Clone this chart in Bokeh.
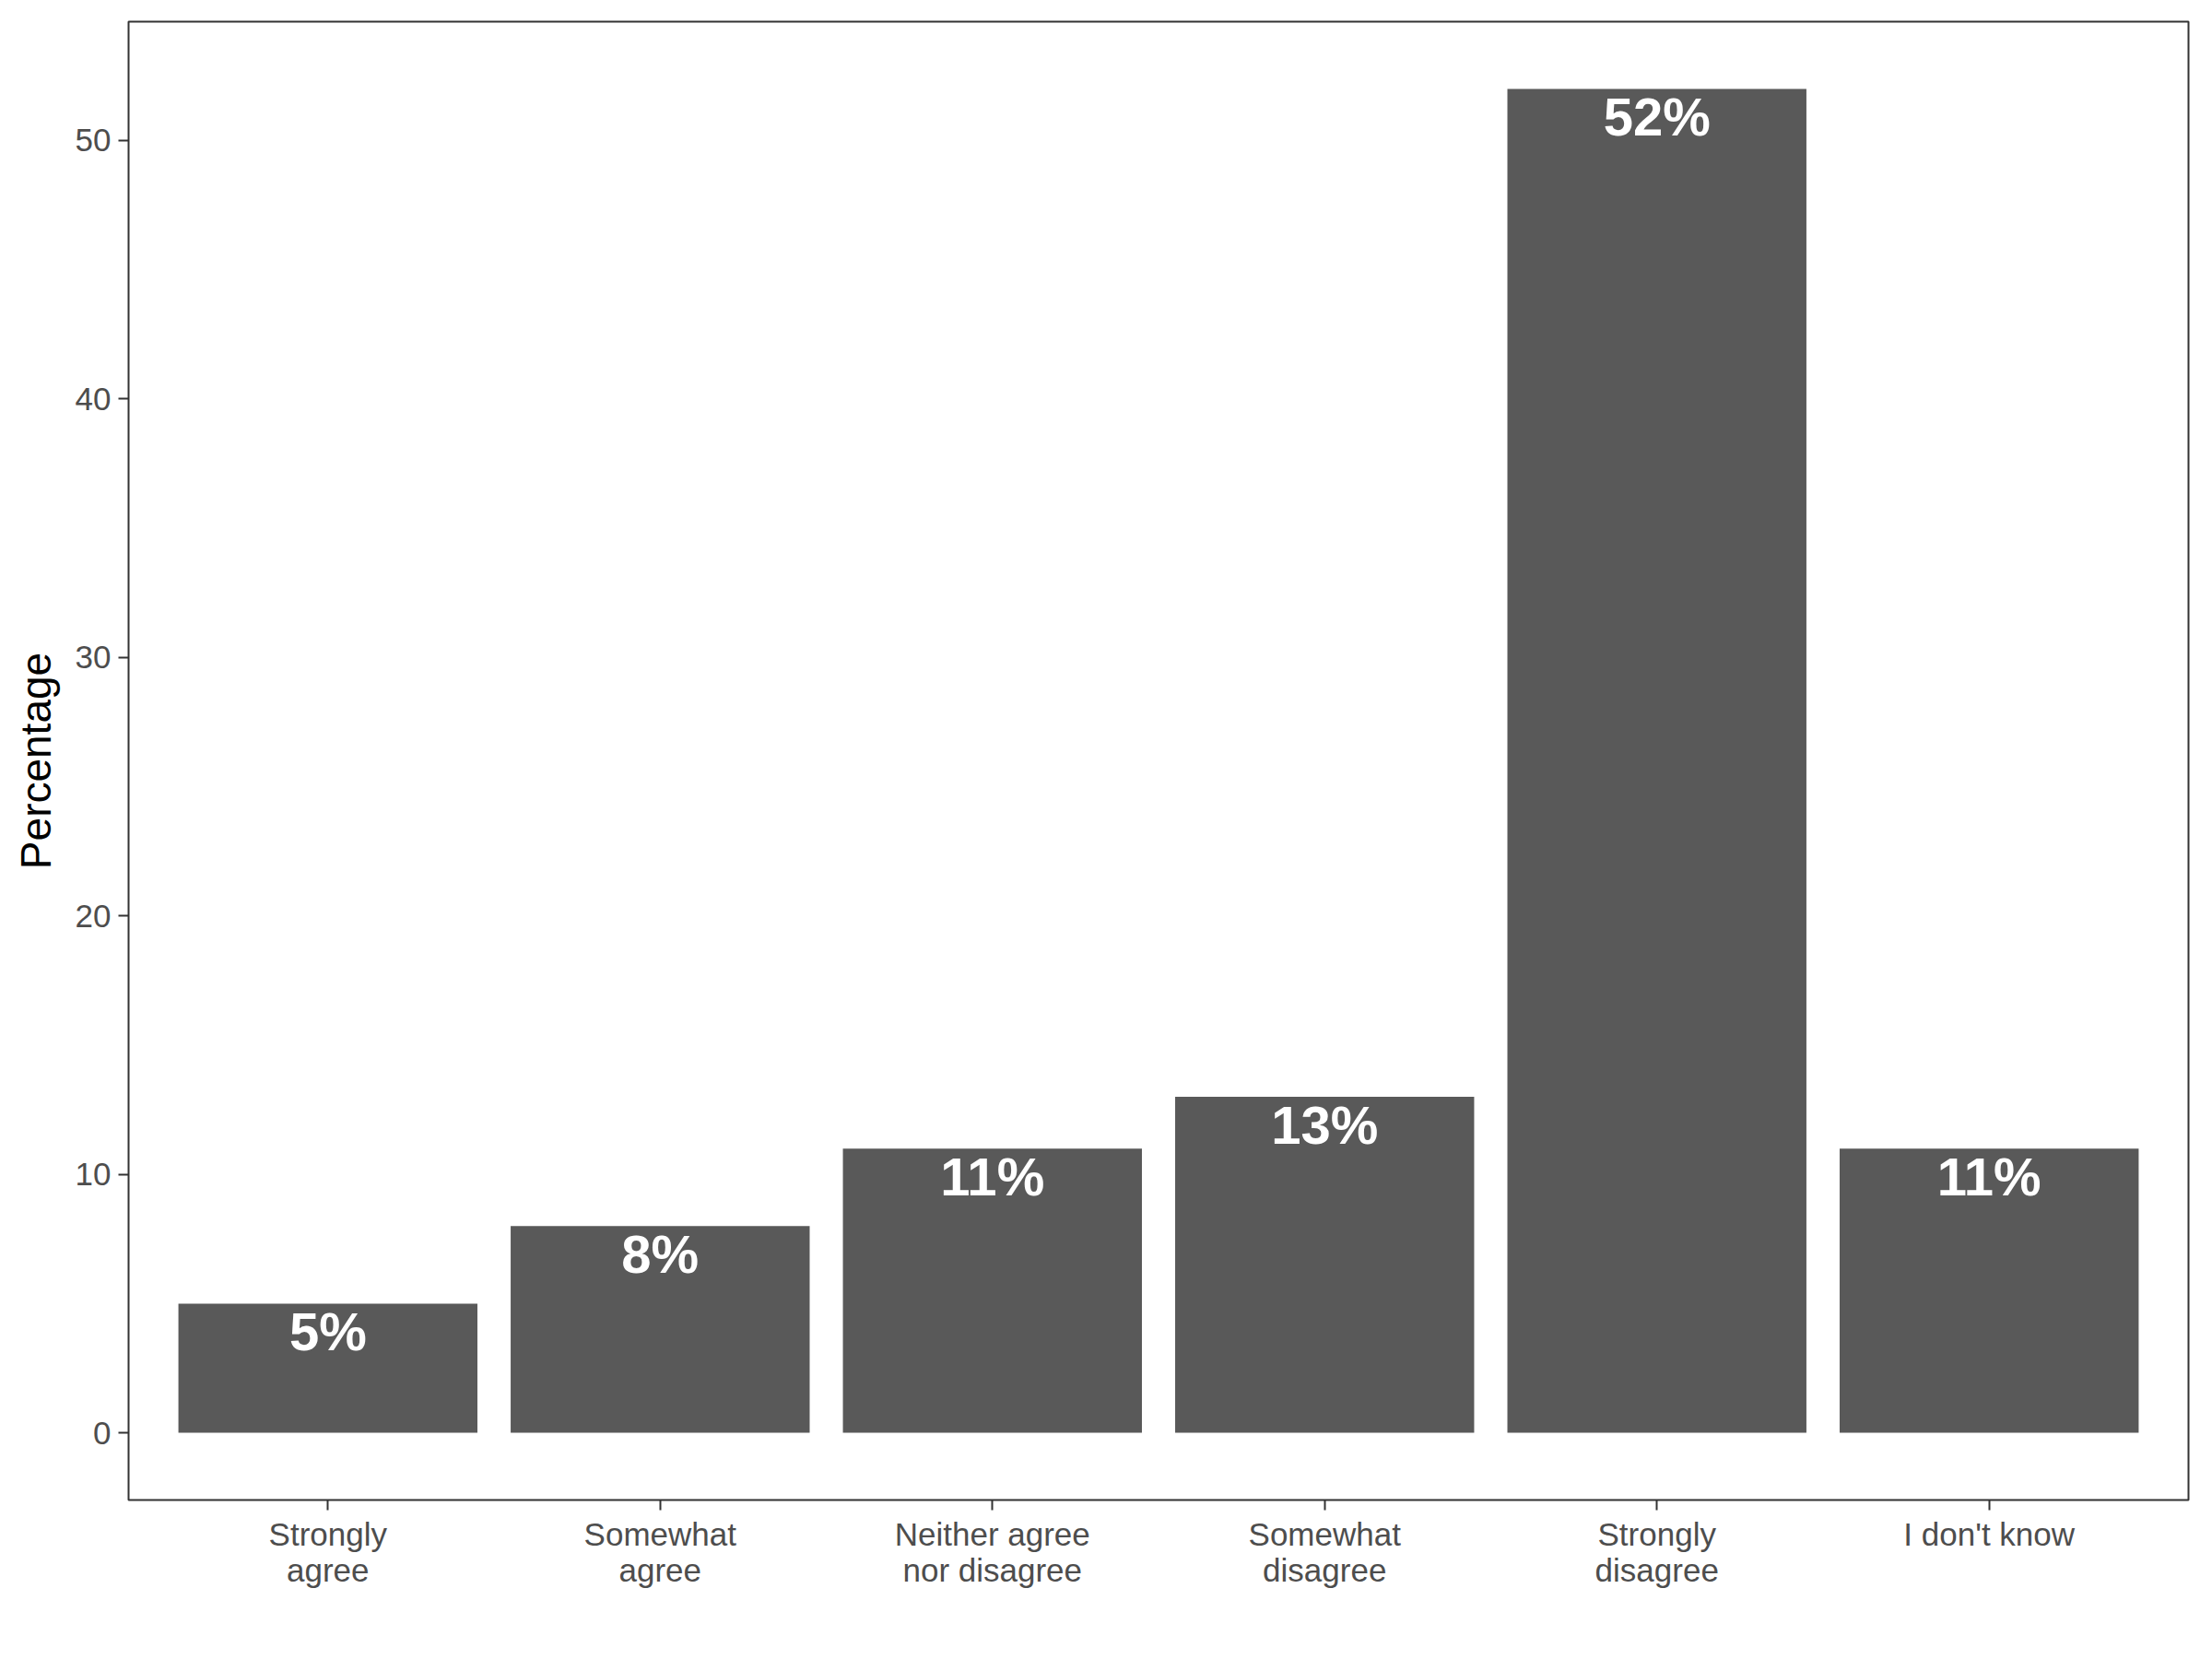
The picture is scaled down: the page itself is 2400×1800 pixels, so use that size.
from bokeh.plotting import figure
from bokeh.models import Range1d, FixedTicker, ColumnDataSource
from bokeh.embed import file_html
from bokeh.resources import INLINE
from bokeh.core.properties import value

categories = ["Strongly\nagree", "Somewhat\nagree", "Neither agree\nnor disagree",
              "Somewhat\ndisagree", "Strongly\ndisagree", "I don't know"]
percentages = [5, 8, 11, 13, 52, 11]
y_ticks = [0, 10, 20, 30, 40, 50]

xs = [i + 1 for i in range(len(categories))]
labels = [f"{v}%" for v in percentages]
src = ColumnDataSource(dict(x=xs, top=percentages, label=labels))

ymax = max(percentages)
pad = ymax * 0.05
n = len(categories)

p = figure(width=2400, height=1800, output_backend="svg", toolbar_location=None,
           x_range=Range1d(0.4, n + 0.6), y_range=Range1d(-pad, ymax + pad),
           min_border_left=139, min_border_right=26, min_border_top=23, min_border_bottom=173)

p.vbar(x="x", top="top", bottom=0, width=0.9, source=src, fill_color="#595959", line_color=None)
p.text(x="x", y="top", text="label", source=src, text_align="center", text_baseline="alphabetic",
       y_offset=30, text_color="white", text_font=value("Liberation Sans"), text_font_style="bold",
       text_font_size="58px")

p.xgrid.visible = False
p.ygrid.visible = False
p.background_fill_color = "white"
p.border_fill_color = "white"
p.outline_line_color = "#333333"
p.outline_line_width = 2

for ax in (p.xaxis[0], p.yaxis[0]):
    ax.axis_line_color = None
    ax.major_tick_line_color = "#333333"
    ax.major_tick_line_width = 2
    ax.major_tick_out = 11
    ax.major_tick_in = 0
    ax.minor_tick_line_color = None
    ax.major_label_text_font = "Liberation Sans"
    ax.major_label_text_font_size = "35px"
    ax.major_label_text_color = "#4D4D4D"

p.xaxis.ticker = FixedTicker(ticks=xs)
p.xaxis.major_label_overrides = {x: c for x, c in zip(xs, categories)}
p.xaxis.major_label_standoff = 6
p.xaxis.major_label_text_line_height = 1.0
p.yaxis.ticker = FixedTicker(ticks=y_ticks)
p.yaxis.major_label_standoff = 8
p.yaxis.axis_label = "Percentage"
p.yaxis.axis_label_text_font = "Liberation Sans"
p.yaxis.axis_label_text_font_size = "46px"
p.yaxis.axis_label_text_font_style = "normal"
p.yaxis.axis_label_text_color = "black"
p.yaxis.axis_label_standoff = 14

open("out.html", "w").write(file_html(p, INLINE))
